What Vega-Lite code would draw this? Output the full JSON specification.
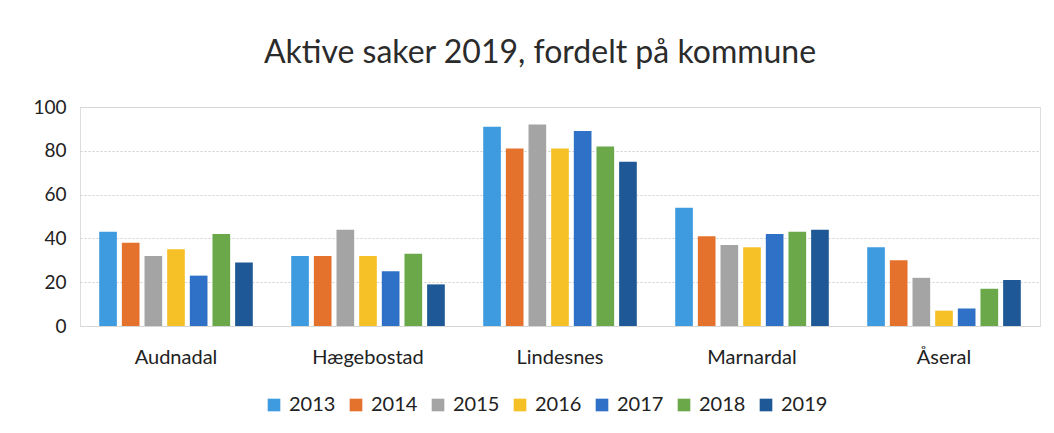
{
  "$schema": "https://vega.github.io/schema/vega-lite/v6.json",
  "width": 960,
  "height": 219,
  "autosize": {"type": "none"},
  "padding": {"left": 80, "top": 107, "right": 14, "bottom": 107},
  "background": "white",
  "title": {
    "text": "Aktive saker 2019, fordelt på kommune",
    "font": "Lato",
    "fontSize": 32,
    "fontWeight": "normal",
    "color": "#2b2b2b",
    "anchor": "middle",
    "offset": 28,
    "dx": -20
  },
  "data": {
    "values": [
      {"kommune": "Audnadal", "year": "2013", "value": 43},
      {"kommune": "Audnadal", "year": "2014", "value": 38},
      {"kommune": "Audnadal", "year": "2015", "value": 32},
      {"kommune": "Audnadal", "year": "2016", "value": 35},
      {"kommune": "Audnadal", "year": "2017", "value": 23},
      {"kommune": "Audnadal", "year": "2018", "value": 42},
      {"kommune": "Audnadal", "year": "2019", "value": 29},
      {"kommune": "Hægebostad", "year": "2013", "value": 32},
      {"kommune": "Hægebostad", "year": "2014", "value": 32},
      {"kommune": "Hægebostad", "year": "2015", "value": 44},
      {"kommune": "Hægebostad", "year": "2016", "value": 32},
      {"kommune": "Hægebostad", "year": "2017", "value": 25},
      {"kommune": "Hægebostad", "year": "2018", "value": 33},
      {"kommune": "Hægebostad", "year": "2019", "value": 19},
      {"kommune": "Lindesnes", "year": "2013", "value": 91},
      {"kommune": "Lindesnes", "year": "2014", "value": 81},
      {"kommune": "Lindesnes", "year": "2015", "value": 92},
      {"kommune": "Lindesnes", "year": "2016", "value": 81},
      {"kommune": "Lindesnes", "year": "2017", "value": 89},
      {"kommune": "Lindesnes", "year": "2018", "value": 82},
      {"kommune": "Lindesnes", "year": "2019", "value": 75},
      {"kommune": "Marnardal", "year": "2013", "value": 54},
      {"kommune": "Marnardal", "year": "2014", "value": 41},
      {"kommune": "Marnardal", "year": "2015", "value": 37},
      {"kommune": "Marnardal", "year": "2016", "value": 36},
      {"kommune": "Marnardal", "year": "2017", "value": 42},
      {"kommune": "Marnardal", "year": "2018", "value": 43},
      {"kommune": "Marnardal", "year": "2019", "value": 44},
      {"kommune": "Åseral", "year": "2013", "value": 36},
      {"kommune": "Åseral", "year": "2014", "value": 30},
      {"kommune": "Åseral", "year": "2015", "value": 22},
      {"kommune": "Åseral", "year": "2016", "value": 7},
      {"kommune": "Åseral", "year": "2017", "value": 8},
      {"kommune": "Åseral", "year": "2018", "value": 17},
      {"kommune": "Åseral", "year": "2019", "value": 21}
    ]
  },
  "mark": {"type": "bar", "stroke": null},
  "encoding": {
    "x": {
      "field": "kommune",
      "type": "nominal",
      "sort": null,
      "scale": {"paddingInner": 0.2, "paddingOuter": 0.1},
      "axis": {
        "title": null,
        "labelAngle": 0,
        "labelFont": "Lato",
        "labelFontSize": 20,
        "labelColor": "#222222",
        "labelPadding": 21,
        "ticks": false,
        "domain": true,
        "domainColor": "#d6d6d6",
        "grid": false
      }
    },
    "xOffset": {
      "field": "year",
      "type": "nominal",
      "scale": {"paddingInner": 0.22}
    },
    "y": {
      "field": "value",
      "type": "quantitative",
      "scale": {"domain": [0, 100]},
      "axis": {
        "title": null,
        "values": [0, 20, 40, 60, 80, 100],
        "labelFont": "Lato",
        "labelFontSize": 19,
        "labelColor": "#222222",
        "labelPadding": 14,
        "ticks": false,
        "domain": false,
        "grid": true,
        "gridColor": "#cfcfcf",
        "gridDash": [2, 2],
        "gridWidth": 1
      }
    },
    "color": {
      "field": "year",
      "type": "nominal",
      "scale": {
        "domain": ["2013", "2014", "2015", "2016", "2017", "2018", "2019"],
        "range": ["#3f9be0", "#e5722c", "#a4a4a4", "#f6c127", "#2f71c6", "#6aa84a", "#1e5896"]
      },
      "legend": {
        "title": null,
        "orient": "none",
        "direction": "horizontal",
        "legendX": 184,
        "legendY": 288,
        "symbolType": "square",
        "symbolSize": 160,
        "symbolStrokeWidth": 0,
        "labelFont": "Lato",
        "labelFontSize": 20,
        "labelColor": "#222222",
        "labelOffset": 5,
        "columnPadding": 10
      }
    }
  }
}
